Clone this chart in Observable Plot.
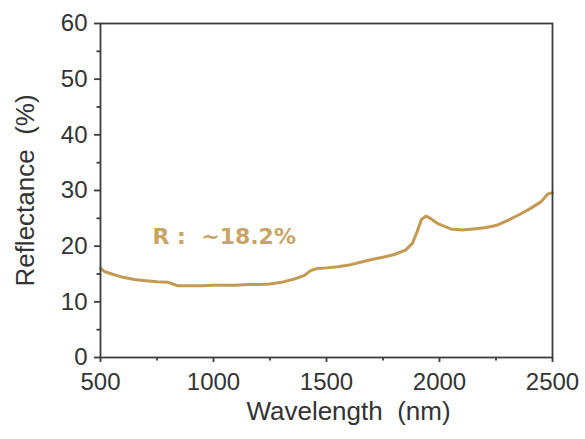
<!DOCTYPE html>
<html>
<head>
<meta charset="utf-8">
<script src="https://cdn.jsdelivr.net/npm/d3@7"></script>
<script src="https://cdn.jsdelivr.net/npm/@observablehq/plot@0.6"></script>
<style>
  html, body { margin: 0; padding: 0; background: white; }
</style>
</head>
<body>
<div id="chart"></div>
<script>
const wavelength = [500, 520, 550, 600, 650, 700, 750, 800, 820, 840, 900, 950, 1000, 1050, 1100, 1150, 1200, 1250, 1300, 1350, 1400, 1430, 1460, 1500, 1550, 1600, 1650, 1700, 1750, 1800, 1850, 1880, 1900, 1920, 1940, 1960, 1980, 2000, 2050, 2100, 2150, 2200, 2250, 2300, 2350, 2400, 2450, 2480, 2500];
const reflectance = [16.0, 15.4, 15.0, 14.4, 14.0, 13.8, 13.6, 13.5, 13.2, 12.9, 12.9, 12.9, 13.0, 13.0, 13.0, 13.1, 13.1, 13.2, 13.5, 14.0, 14.7, 15.6, 16.0, 16.1, 16.3, 16.6, 17.1, 17.6, 18.0, 18.5, 19.3, 20.5, 22.5, 24.8, 25.4, 25.0, 24.4, 23.9, 23.1, 22.9, 23.1, 23.3, 23.7, 24.6, 25.6, 26.7, 28.0, 29.4, 29.6];
const xMajorTicks = [500, 1000, 1500, 2000, 2500];
const xMinorTicks = [750, 1250, 1750, 2250];
const yMajorTicks = [0, 10, 20, 30, 40, 50, 60];
const yMinorTicks = [5, 15, 25, 35, 45, 55];
const annotation = [{x: 730, y: 21.7, text: "R :\u00A0\u00A0~18.2%"}];
const xTitle = "Wavelength\u00A0\u00A0(nm)";
const yTitle = "Reflectance\u00A0\u00A0(%)";

const data = wavelength.map((w, i) => ({w, r: reflectance[i]}));
const axisColor = "#3c3c3c";
const lineColor = "#c49a52";

const chart = Plot.plot({
  width: 585,
  height: 439,
  marginLeft: 100,
  marginRight: 33,
  marginTop: 23,
  marginBottom: 82,
  style: {fontFamily: "'Liberation Sans', Arial, sans-serif", color: "#333", background: "white"},
  x: {domain: [500, 2500]},
  y: {domain: [0, 60]},
  marks: [
    Plot.line(data, {x: "w", y: "r", stroke: lineColor, strokeWidth: 3, curve: "linear"}),
    Plot.text(annotation, {x: "x", y: "y", text: "text", textAnchor: "start", lineAnchor: "middle", fill: "#c8a465", fontSize: 22, fontWeight: "bold", fontFamily: "'DejaVu Sans', sans-serif"}),
    Plot.frame({stroke: axisColor, strokeWidth: 1.8}),
    Plot.axisX({ticks: xMajorTicks, tickFormat: d3.format("d"), tickSize: 5, tickPadding: 10, fontSize: 24, label: null, stroke: axisColor, strokeWidth: 1.8, fill: "#333"}),
    Plot.axisX({ticks: xMinorTicks, tickSize: 3.5, text: null, label: null, stroke: axisColor, strokeWidth: 1.8}),
    Plot.axisY({ticks: yMajorTicks, tickFormat: d3.format("d"), tickSize: 6, tickPadding: 7, fontSize: 24, label: null, stroke: axisColor, strokeWidth: 1.8, fill: "#333"}),
    Plot.axisY({ticks: yMinorTicks, tickSize: 3.5, text: null, label: null, stroke: axisColor, strokeWidth: 1.8}),
    Plot.text([xTitle], {frameAnchor: "bottom", dy: 54, dx: 22, textAnchor: "middle", lineAnchor: "middle", fontSize: 26, fill: "#333"}),
    Plot.text([yTitle], {frameAnchor: "left", dx: -75, rotate: -90, textAnchor: "middle", lineAnchor: "middle", fontSize: 26, fill: "#333"})
  ]
});
document.getElementById("chart").appendChild(chart);
</script>
</body>
</html>
